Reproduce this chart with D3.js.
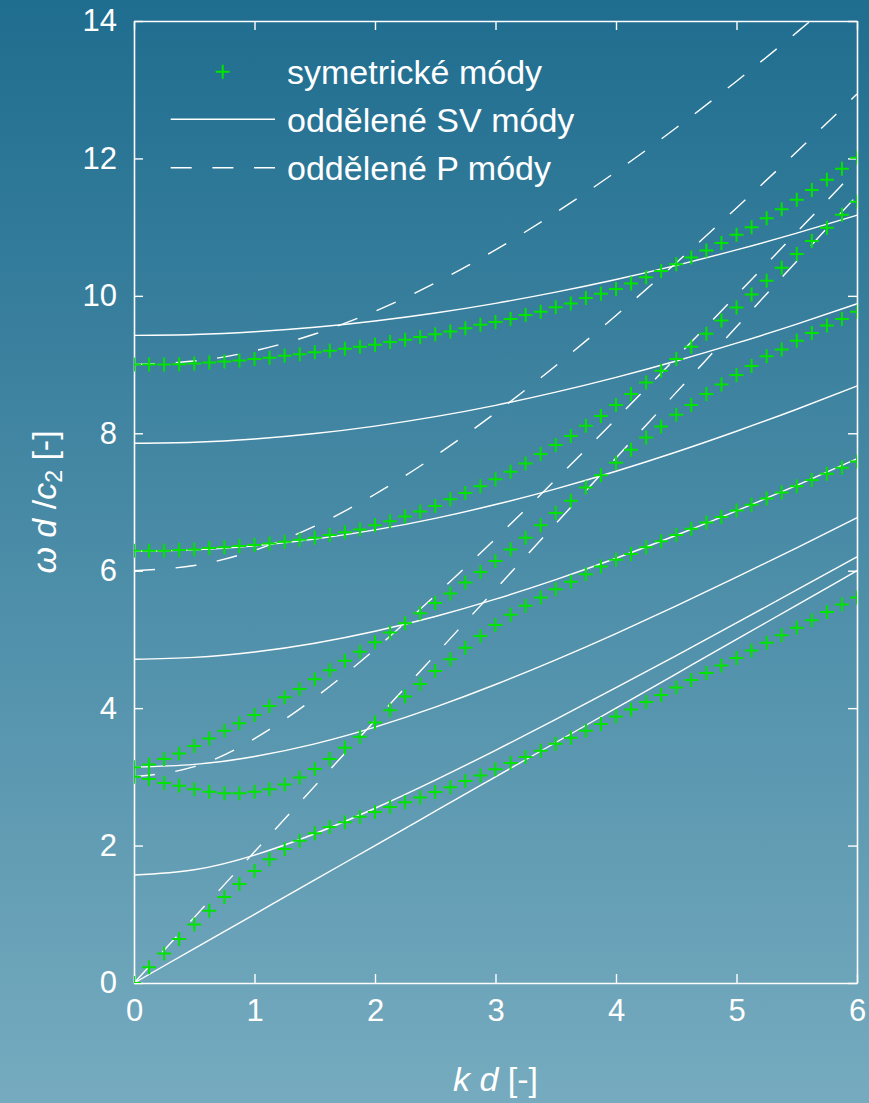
<!DOCTYPE html>
<html>
<head>
<meta charset="utf-8">
<script src="https://cdn.jsdelivr.net/npm/d3@7"></script>
<style>
  html, body { margin: 0; padding: 0; }
  svg { display: block; }
  text { font-family: "Liberation Sans", Arial, Helvetica, sans-serif; fill: #fff; }
</style>
</head>
<body>
<svg id="chart" width="869" height="1103"></svg>
<script>
// ============================================================================
// DATA
// ============================================================================

// k d grid of the symmetric-mode points
var kSym = [0, 0.125, 0.25, 0.375, 0.5, 0.625, 0.75, 0.875, 1, 1.125, 1.25, 1.375, 1.5, 1.625, 1.75, 1.875,
            2, 2.125, 2.25, 2.375, 2.5, 2.625, 2.75, 2.875, 3, 3.125, 3.25, 3.375, 3.5, 3.625, 3.75, 3.875,
            4, 4.125, 4.25, 4.375, 4.5, 4.625, 4.75, 4.875, 5, 5.125, 5.25, 5.375, 5.5, 5.625, 5.75, 5.875, 6];

// symmetric modes, omega d / c2
var symS0 = [0, 0.23, 0.43, 0.64, 0.85, 1.05, 1.25, 1.44, 1.63, 1.80, 1.95, 2.07, 2.18, 2.27, 2.34, 2.42,
             2.49, 2.56, 2.63, 2.70, 2.78, 2.85, 2.94, 3.02, 3.11, 3.20, 3.29, 3.38, 3.48, 3.57, 3.67, 3.77,
             3.88, 3.98, 4.09, 4.19, 4.30, 4.41, 4.51, 4.62, 4.73, 4.84, 4.95, 5.06, 5.17, 5.28, 5.40, 5.51, 5.61];
var symS1 = [3.00, 2.97, 2.91, 2.87, 2.82, 2.785, 2.76, 2.76, 2.785, 2.82, 2.89, 2.99, 3.115, 3.26, 3.425, 3.585,
             3.79, 3.97, 4.17, 4.35, 4.54, 4.71, 4.88, 5.05, 5.21, 5.36, 5.49, 5.61, 5.73, 5.84, 5.95, 6.06,
             6.16, 6.245, 6.34, 6.43, 6.52, 6.61, 6.70, 6.78, 6.875, 6.96, 7.05, 7.14, 7.23, 7.32, 7.41, 7.50, 7.59];
var symS2 = [3.14, 3.18, 3.26, 3.34, 3.45, 3.56, 3.67, 3.78, 3.90, 4.03, 4.16, 4.28, 4.42, 4.55, 4.69, 4.82,
             4.96, 5.10, 5.235, 5.38, 5.53, 5.67, 5.83, 5.98, 6.14, 6.31, 6.48, 6.66, 6.84, 7.02, 7.21, 7.39,
             7.57, 7.76, 7.94, 8.10, 8.27, 8.41, 8.57, 8.71, 8.85, 8.98, 9.12, 9.22, 9.345, 9.46, 9.57, 9.665, 9.77];
var symS3 = [6.29, 6.29, 6.29, 6.30, 6.31, 6.33, 6.34, 6.36, 6.375, 6.395, 6.42, 6.45, 6.48, 6.52, 6.56, 6.60,
             6.66, 6.72, 6.79, 6.86, 6.94, 7.04, 7.13, 7.23, 7.33, 7.44, 7.56, 7.70, 7.83, 7.96, 8.11, 8.25,
             8.41, 8.57, 8.74, 8.91, 9.08, 9.26, 9.45, 9.64, 9.83, 10.02, 10.22, 10.41, 10.61, 10.80, 10.99, 11.18, 11.37];
var symS4 = [9.00, 9.00, 9.00, 9.005, 9.015, 9.03, 9.045, 9.06, 9.08, 9.10, 9.13, 9.15, 9.18, 9.20, 9.23, 9.26,
             9.29, 9.33, 9.36, 9.40, 9.44, 9.48, 9.53, 9.58, 9.62, 9.665, 9.72, 9.77, 9.835, 9.89, 9.97, 10.03,
             10.10, 10.18, 10.27, 10.36, 10.46, 10.56, 10.66, 10.77, 10.89, 11.00, 11.13, 11.26, 11.40, 11.54, 11.69, 11.85, 12.01];

// k d grid of the separated-mode curves
var kLine = [0, 0.5, 1, 1.5, 2, 2.5, 3, 3.5, 4, 4.5, 5, 5.5, 6];

// separated SV modes (solid)
var sv0 = [0, 0.5, 1, 1.5, 2, 2.5, 3, 3.5, 4, 4.5, 5, 5.5, 6];
var sv1 = [1.571, 1.648, 1.862, 2.172, 2.543, 2.953, 3.386, 3.836, 4.297, 4.766, 5.241, 5.720, 6.202];
var sv2 = [3.142, 3.181, 3.297, 3.481, 3.724, 4.015, 4.344, 4.703, 5.086, 5.488, 5.905, 6.334, 6.773];
var sv3 = [4.712, 4.739, 4.817, 4.945, 5.119, 5.334, 5.586, 5.870, 6.181, 6.516, 6.871, 7.243, 7.629];
var sv4 = [6.283, 6.303, 6.362, 6.460, 6.594, 6.762, 6.963, 7.192, 7.448, 7.728, 8.030, 8.350, 8.688];
var sv5 = [7.854, 7.870, 7.917, 7.996, 8.105, 8.242, 8.407, 8.599, 8.814, 9.052, 9.311, 9.588, 9.884];
var sv6 = [9.425, 9.438, 9.478, 9.543, 9.635, 9.751, 9.891, 10.054, 10.238, 10.444, 10.669, 10.912, 11.173];

// separated P modes (dashed)
var p0 = [0, 0.955, 1.91, 2.865, 3.82, 4.775, 5.73, 6.685, 7.64, 8.595, 9.55, 10.505, 11.46];
var p1 = [3.000, 3.148, 3.556, 4.149, 4.857, 5.640, 6.467, 7.327, 8.207, 9.103, 10.010, 10.925, 11.846];
var p2 = [6.000, 6.076, 6.297, 6.649, 7.113, 7.669, 8.297, 8.983, 9.714, 10.482, 11.279, 12.098, 12.936];
var p3 = [9.000, 9.051, 9.200, 9.445, 9.777, 10.188, 10.669, 11.212, 11.806, 12.446, 13.124, 13.834, 14.571];

var xTicks = [0, 1, 2, 3, 4, 5, 6];
var yTicks = [0, 2, 4, 6, 8, 10, 12, 14];
var legendLabels = ["symetrické módy", "oddělené SV módy", "oddělené P módy"];

// ============================================================================
// SETUP
// ============================================================================

var W = 869, H = 1103;
var svg = d3.select("#chart");
var x = d3.scaleLinear().domain([0, 6]).range([134, 857]);
var y = d3.scaleLinear().domain([0, 14]).range([983, 21]);

var GREEN = "#00e400";
var DASH = "21,20.7";

var defs = svg.append("defs");
var grad = defs.append("linearGradient").attr("id", "bg")
    .attr("x1", 0).attr("y1", 0).attr("x2", 0).attr("y2", 1);
grad.append("stop").attr("offset", "0%").attr("stop-color", "#1f6d8f");
grad.append("stop").attr("offset", "100%").attr("stop-color", "#76abbf");

defs.append("clipPath").attr("id", "plotClip").append("rect")
    .attr("x", x(0)).attr("y", y(14))
    .attr("width", x(6) - x(0)).attr("height", y(0) - y(14));

svg.append("rect").attr("width", W).attr("height", H).attr("fill", "url(#bg)");

// ============================================================================
// AXES (ticks inward, mirrored on top/right)
// ============================================================================

function styleAxis(g) {
    g.selectAll("path.domain").attr("stroke", "#fff").attr("stroke-width", 1.6);
    g.selectAll(".tick line").attr("stroke", "#fff").attr("stroke-width", 1.4);
    g.selectAll(".tick text").attr("fill", "#fff").attr("font-size", 31)
        .attr("font-family", '"Liberation Sans", Arial, sans-serif');
}

svg.append("g").attr("transform", "translate(0," + y(0) + ")")
    .call(d3.axisBottom(x).tickValues(xTicks).tickSize(-9).tickSizeOuter(0).tickPadding(16).tickFormat(d3.format("d")))
    .call(styleAxis);
svg.append("g").attr("transform", "translate(0," + y(14) + ")")
    .call(d3.axisTop(x).tickValues(xTicks).tickSize(-9).tickSizeOuter(0).tickFormat(""))
    .call(styleAxis);
svg.append("g").attr("transform", "translate(" + x(0) + ",0)")
    .call(d3.axisLeft(y).tickValues(yTicks).tickSize(-9).tickSizeOuter(0).tickPadding(17).tickFormat(d3.format("d")))
    .call(styleAxis);
svg.append("g").attr("transform", "translate(" + x(6) + ",0)")
    .call(d3.axisRight(y).tickValues(yTicks).tickSize(-9).tickSizeOuter(0).tickFormat(""))
    .call(styleAxis);

// ============================================================================
// CURVES
// ============================================================================

var plot = svg.append("g").attr("clip-path", "url(#plotClip)");

var line = d3.line()
    .x(function(d, i) { return x(kLine[i]); })
    .y(function(d) { return y(d); })
    .curve(d3.curveNatural);

plot.selectAll(".sv").data([sv0, sv1, sv2, sv3, sv4, sv5, sv6]).enter().append("path")
    .attr("class", "sv")
    .attr("d", line)
    .attr("fill", "none").attr("stroke", "#fff").attr("stroke-width", 1.4);

plot.selectAll(".p").data([p0, p1, p2, p3]).enter().append("path")
    .attr("class", "p")
    .attr("d", line)
    .attr("fill", "none").attr("stroke", "#fff").attr("stroke-width", 1.4)
    .attr("stroke-dasharray", DASH);

// symmetric modes as plus marks
var PLUS = "M-7,0H7M0,-7V7";
[symS0, symS1, symS2, symS3, symS4].forEach(function(series) {
    plot.append("g").selectAll("path").data(series).enter().append("path")
        .attr("d", PLUS)
        .attr("transform", function(d, i) { return "translate(" + x(kSym[i]) + "," + y(d) + ")"; })
        .attr("fill", "none").attr("stroke", GREEN).attr("stroke-width", 2);
});

// ============================================================================
// LEGEND
// ============================================================================

var legend = svg.append("g");
var rowY = [71.7, 119.3, 167.7];
legend.append("path").attr("d", PLUS)
    .attr("transform", "translate(222.7," + rowY[0] + ")")
    .attr("fill", "none").attr("stroke", GREEN).attr("stroke-width", 2);
legend.append("line").attr("x1", 170.7).attr("x2", 275).attr("y1", rowY[1]).attr("y2", rowY[1])
    .attr("stroke", "#fff").attr("stroke-width", 1.4);
legend.append("line").attr("x1", 170.7).attr("x2", 275).attr("y1", rowY[2]).attr("y2", rowY[2])
    .attr("stroke", "#fff").attr("stroke-width", 1.4).attr("stroke-dasharray", DASH);
legend.selectAll("text.lab").data(legendLabels).enter().append("text")
    .attr("class", "lab")
    .attr("x", 287).attr("y", function(d, i) { return rowY[i]; })
    .attr("dy", "0.36em")
    .attr("font-size", 34)
    .text(function(d) { return d; });

// ============================================================================
// AXIS TITLES
// ============================================================================

var xt = svg.append("text").attr("x", (x(0) + x(6)) / 2).attr("y", 1091)
    .attr("text-anchor", "middle").attr("font-size", 34);
xt.append("tspan").attr("font-style", "italic").text("k d");
xt.append("tspan").text(" [-]");

var yt = svg.append("text").attr("transform", "translate(56," + ((y(0) + y(14)) / 2) + ") rotate(-90)")
    .attr("text-anchor", "middle").attr("font-size", 34);
yt.append("tspan").attr("font-style", "italic").text("ω d");
yt.append("tspan").text(" /");
yt.append("tspan").attr("font-style", "italic").text("c");
yt.append("tspan").attr("font-size", 23).attr("dy", 6).text("2");
yt.append("tspan").attr("dy", -6).text(" [-]");
</script>
</body>
</html>
